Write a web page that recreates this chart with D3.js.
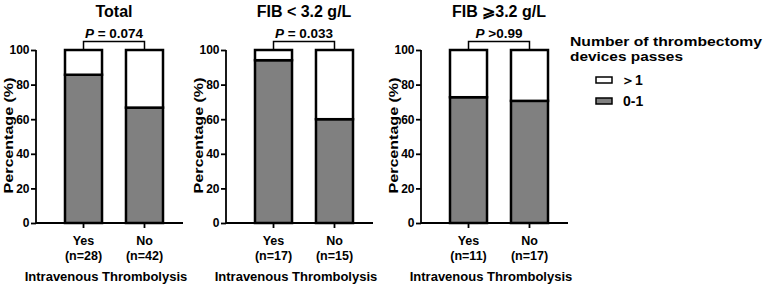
<!DOCTYPE html>
<html><head><meta charset="utf-8">
<script src="https://cdn.jsdelivr.net/npm/d3@7"></script>
<style>
body{margin:0;background:#fff;}
text{font-family:"Liberation Sans",Arial,sans-serif;font-weight:bold;fill:#000;}
</style></head>
<body><svg id="c" width="767" height="288"></svg>
<script>
const panelTitles = ["Total", "FIB < 3.2 g/L", "FIB \u2A7E3.2 g/L"];
const pLabels = [["P", " = 0.074"], ["P", " = 0.033"], ["P", " >0.99"]];
const categories = ["Yes", "No"];
const nLabels = [["(n=28)", "(n=42)"], ["(n=17)", "(n=15)"], ["(n=11)", "(n=17)"]];
const low = [[85.7, 66.7], [94.1, 60.0], [72.7, 70.6]];   // 0-1 passes (%)
const high = [[14.3, 33.3], [5.9, 40.0], [27.3, 29.4]];  // >1 passes (%)
const yTicks = [0, 20, 40, 60, 80, 100];
const legendItems = ["\uFF1E1", "0-1"];
const legendTitle = ["Number of thrombectomy", "devices passes"];

(function () {
const svg = d3.select("#c");
const panelX = [36, 226, 421];   // y-axis position of each panel
const yTop = 50, yBot = 223;
const y = d3.scaleLinear().domain([0, 100]).range([yBot, yTop]);
const gray = "#808080";

panelX.forEach((ax, i) => {
  const g = svg.append("g");
  const x = d3.scaleBand().domain(categories).range([ax + 29, ax + 127]).paddingInner(0.393).paddingOuter(0);
  const axEnd = ax + 147;
  categories.forEach((c, j) => {
    g.append("rect").attr("x", x(c)).attr("width", x.bandwidth())
      .attr("y", y(low[i][j])).attr("height", y(0) - y(low[i][j]))
      .attr("fill", gray).attr("stroke", "#000").attr("stroke-width", 2.5);
    g.append("rect").attr("x", x(c)).attr("width", x.bandwidth())
      .attr("y", y(low[i][j] + high[i][j])).attr("height", y(low[i][j]) - y(low[i][j] + high[i][j]))
      .attr("fill", "#fff").attr("stroke", "#000").attr("stroke-width", 2.5);
  });
  const yAxis = d3.axisLeft(y).tickValues(yTicks).tickSize(5).tickPadding(1.5);
  const ya = g.append("g").attr("transform", `translate(${ax},0)`).call(yAxis);
  ya.select(".domain").attr("stroke-width", 1.8).attr("d", `M0,${yTop}V${yBot}`);
  ya.selectAll(".tick line").attr("stroke-width", 1.8);
  ya.selectAll(".tick text").style("font-size", "12px").style("font-family", "Liberation Sans, Arial").style("font-weight", "bold");
  const xa = g.append("g").attr("transform", `translate(0,${yBot})`);
  xa.append("line").attr("x1", ax).attr("x2", axEnd).attr("stroke", "#000").attr("stroke-width", 1.8);
  categories.forEach((c, j) => {
    const cx = x(c) + x.bandwidth() / 2;
    xa.append("line").attr("x1", cx).attr("x2", cx).attr("y1", 0).attr("y2", 5).attr("stroke", "#000").attr("stroke-width", 1.8);
    xa.append("text").attr("x", cx).attr("y", 22).attr("text-anchor", "middle").style("font-size", "12.5px").text(c);
    xa.append("text").attr("x", cx).attr("y", 36.5).attr("text-anchor", "middle").style("font-size", "12.5px").text(nLabels[i][j]);
  });
  const midBars = x(categories[0]) + (x(categories[1]) + x.bandwidth() - x(categories[0])) / 2;
  g.append("text").attr("x", (ax - 11 + axEnd + 4) / 2).attr("y", 281).attr("text-anchor", "middle").style("font-size", "13px").text("Intravenous Thrombolysis");
  g.append("text").attr("transform", `translate(${ax - 23},${(yTop + yBot) / 2 - 1}) rotate(-90)`)
    .attr("text-anchor", "middle").style("font-size", "13px")
    .attr("textLength", 116).attr("lengthAdjust", "spacingAndGlyphs").text("Percentage (%)");
  g.append("text").attr("x", midBars).attr("y", 17).attr("text-anchor", "middle").style("font-size", "16px").text(panelTitles[i]);
  const c0 = x(categories[0]) + x.bandwidth() / 2, c1 = x(categories[1]) + x.bandwidth() / 2;
  g.append("path").attr("d", `M${c0},${yTop}V${yTop - 8.5}H${c1}V${yTop}`).attr("fill", "none").attr("stroke", "#000").attr("stroke-width", 1.5);
  const pt = g.append("text").attr("x", midBars).attr("y", 38).attr("text-anchor", "middle").style("font-size", "13.5px");
  pt.append("tspan").style("font-style", "italic").text(pLabels[i][0]);
  pt.append("tspan").text(pLabels[i][1]);
});

const lg = svg.append("g");
const titleW = [192, 113];
legendTitle.forEach((t, k) => lg.append("text").attr("x", 570).attr("y", 46 + k * 15).style("font-size", "13.5px")
  .attr("textLength", titleW[k]).attr("lengthAdjust", "spacingAndGlyphs").text(t));
legendItems.forEach((t, k) => {
  const yy = 77 + k * 21;
  lg.append("rect").attr("x", 596).attr("y", yy).attr("width", 16).attr("height", 6)
    .attr("fill", k === 0 ? "#fff" : gray).attr("stroke", "#000").attr("stroke-width", 1.5);
  lg.append("text").attr("x", k === 0 ? 621 : 623).attr("y", yy + 8).style("font-size", "14px").text(t);
});
})();
</script></body></html>
